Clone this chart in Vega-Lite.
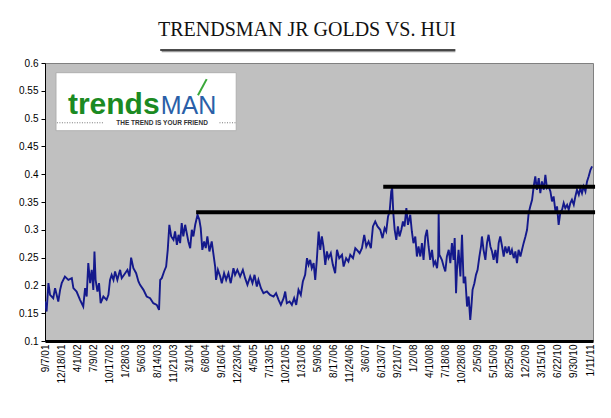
{
  "$schema": "https://vega.github.io/schema/vega-lite/v6.json",
  "autosize": {"type": "none"},
  "width": 548,
  "height": 278,
  "padding": {"left": 45, "top": 63, "right": 18, "bottom": 77},
  "background": "white",
  "config": {"view": {"fill": "#c0c0c0", "stroke": "#808080", "strokeWidth": 1}, "axis": {"labelOverlap": false}},
  "title": {"text": "TRENDSMAN JR GOLDS VS. HUI", "font": "Liberation Serif", "fontSize": 20, "fontWeight": "normal", "color": "#111111", "anchor": "middle", "frame": "group", "dx": -12, "offset": 9},
  "datasets": {
    "series": [
      {"day":0,"v":0.171},{"day":7,"v":0.153},{"day":15,"v":0.204},{"day":22,"v":0.183},{"day":36,"v":0.177},{"day":44,"v":0.195},{"day":58,"v":0.171},{"day":66,"v":0.192},{"day":73,"v":0.204},{"day":87,"v":0.216},{"day":102,"v":0.210},{"day":117,"v":0.213},{"day":124,"v":0.195},{"day":138,"v":0.189},{"day":153,"v":0.174},{"day":167,"v":0.162},{"day":175,"v":0.195},{"day":182,"v":0.180},{"day":189,"v":0.240},{"day":197,"v":0.204},{"day":204,"v":0.228},{"day":211,"v":0.192},{"day":216,"v":0.261},{"day":221,"v":0.210},{"day":229,"v":0.189},{"day":236,"v":0.204},{"day":243,"v":0.168},{"day":255,"v":0.180},{"day":269,"v":0.174},{"day":277,"v":0.183},{"day":284,"v":0.210},{"day":291,"v":0.219},{"day":299,"v":0.210},{"day":306,"v":0.225},{"day":316,"v":0.210},{"day":328,"v":0.228},{"day":335,"v":0.213},{"day":350,"v":0.222},{"day":360,"v":0.228},{"day":369,"v":0.216},{"day":376,"v":0.250},{"day":386,"v":0.231},{"day":398,"v":0.222},{"day":408,"v":0.207},{"day":415,"v":0.201},{"day":430,"v":0.192},{"day":444,"v":0.180},{"day":459,"v":0.177},{"day":473,"v":0.168},{"day":488,"v":0.165},{"day":498,"v":0.156},{"day":503,"v":0.210},{"day":510,"v":0.213},{"day":520,"v":0.225},{"day":529,"v":0.234},{"day":536,"v":0.264},{"day":543,"v":0.309},{"day":551,"v":0.288},{"day":561,"v":0.282},{"day":568,"v":0.297},{"day":576,"v":0.273},{"day":583,"v":0.291},{"day":590,"v":0.276},{"day":597,"v":0.312},{"day":604,"v":0.288},{"day":612,"v":0.309},{"day":619,"v":0.294},{"day":626,"v":0.279},{"day":634,"v":0.267},{"day":641,"v":0.300},{"day":648,"v":0.288},{"day":656,"v":0.309},{"day":666,"v":0.327},{"day":674,"v":0.318},{"day":680,"v":0.303},{"day":687,"v":0.264},{"day":695,"v":0.279},{"day":702,"v":0.267},{"day":709,"v":0.288},{"day":718,"v":0.261},{"day":728,"v":0.279},{"day":736,"v":0.255},{"day":743,"v":0.234},{"day":747,"v":0.210},{"day":755,"v":0.228},{"day":765,"v":0.216},{"day":772,"v":0.204},{"day":782,"v":0.222},{"day":791,"v":0.210},{"day":801,"v":0.222},{"day":811,"v":0.204},{"day":823,"v":0.231},{"day":830,"v":0.219},{"day":840,"v":0.228},{"day":852,"v":0.216},{"day":864,"v":0.228},{"day":874,"v":0.213},{"day":884,"v":0.201},{"day":896,"v":0.216},{"day":906,"v":0.204},{"day":915,"v":0.219},{"day":925,"v":0.198},{"day":932,"v":0.210},{"day":943,"v":0.195},{"day":954,"v":0.186},{"day":969,"v":0.189},{"day":983,"v":0.183},{"day":998,"v":0.180},{"day":1009,"v":0.186},{"day":1020,"v":0.174},{"day":1030,"v":0.165},{"day":1042,"v":0.177},{"day":1049,"v":0.189},{"day":1056,"v":0.168},{"day":1068,"v":0.171},{"day":1078,"v":0.165},{"day":1088,"v":0.177},{"day":1097,"v":0.165},{"day":1107,"v":0.192},{"day":1117,"v":0.183},{"day":1126,"v":0.207},{"day":1136,"v":0.219},{"day":1144,"v":0.249},{"day":1151,"v":0.237},{"day":1158,"v":0.246},{"day":1165,"v":0.231},{"day":1173,"v":0.240},{"day":1180,"v":0.210},{"day":1187,"v":0.246},{"day":1195,"v":0.297},{"day":1202,"v":0.264},{"day":1209,"v":0.288},{"day":1216,"v":0.270},{"day":1224,"v":0.237},{"day":1231,"v":0.261},{"day":1238,"v":0.249},{"day":1248,"v":0.258},{"day":1257,"v":0.237},{"day":1267,"v":0.222},{"day":1275,"v":0.264},{"day":1285,"v":0.249},{"day":1297,"v":0.255},{"day":1304,"v":0.234},{"day":1315,"v":0.249},{"day":1325,"v":0.243},{"day":1333,"v":0.255},{"day":1345,"v":0.249},{"day":1355,"v":0.267},{"day":1362,"v":0.264},{"day":1374,"v":0.258},{"day":1384,"v":0.267},{"day":1394,"v":0.291},{"day":1403,"v":0.270},{"day":1413,"v":0.279},{"day":1423,"v":0.267},{"day":1432,"v":0.306},{"day":1442,"v":0.315},{"day":1452,"v":0.306},{"day":1464,"v":0.300},{"day":1474,"v":0.285},{"day":1483,"v":0.303},{"day":1490,"v":0.297},{"day":1498,"v":0.324},{"day":1505,"v":0.333},{"day":1512,"v":0.369},{"day":1516,"v":0.375},{"day":1521,"v":0.330},{"day":1527,"v":0.300},{"day":1534,"v":0.282},{"day":1541,"v":0.306},{"day":1548,"v":0.288},{"day":1556,"v":0.300},{"day":1563,"v":0.315},{"day":1570,"v":0.306},{"day":1578,"v":0.339},{"day":1585,"v":0.309},{"day":1595,"v":0.327},{"day":1602,"v":0.297},{"day":1609,"v":0.276},{"day":1617,"v":0.288},{"day":1624,"v":0.252},{"day":1631,"v":0.270},{"day":1639,"v":0.252},{"day":1646,"v":0.276},{"day":1653,"v":0.246},{"day":1661,"v":0.288},{"day":1668,"v":0.300},{"day":1675,"v":0.270},{"day":1682,"v":0.246},{"day":1690,"v":0.264},{"day":1697,"v":0.237},{"day":1704,"v":0.243},{"day":1712,"v":0.231},{"day":1717,"v":0.252},{"day":1719,"v":0.330},{"day":1722,"v":0.255},{"day":1726,"v":0.252},{"day":1733,"v":0.246},{"day":1741,"v":0.234},{"day":1748,"v":0.225},{"day":1755,"v":0.252},{"day":1763,"v":0.264},{"day":1770,"v":0.240},{"day":1777,"v":0.276},{"day":1784,"v":0.246},{"day":1789,"v":0.285},{"day":1795,"v":0.186},{"day":1799,"v":0.228},{"day":1806,"v":0.264},{"day":1814,"v":0.216},{"day":1821,"v":0.291},{"day":1828,"v":0.204},{"day":1835,"v":0.216},{"day":1843,"v":0.162},{"day":1850,"v":0.180},{"day":1857,"v":0.138},{"day":1862,"v":0.162},{"day":1867,"v":0.192},{"day":1875,"v":0.204},{"day":1882,"v":0.219},{"day":1889,"v":0.228},{"day":1897,"v":0.252},{"day":1904,"v":0.270},{"day":1908,"v":0.288},{"day":1915,"v":0.264},{"day":1923,"v":0.246},{"day":1930,"v":0.276},{"day":1937,"v":0.291},{"day":1945,"v":0.270},{"day":1952,"v":0.261},{"day":1959,"v":0.246},{"day":1967,"v":0.264},{"day":1974,"v":0.240},{"day":1981,"v":0.276},{"day":1988,"v":0.288},{"day":1996,"v":0.270},{"day":2003,"v":0.252},{"day":2010,"v":0.270},{"day":2018,"v":0.258},{"day":2025,"v":0.270},{"day":2032,"v":0.255},{"day":2039,"v":0.264},{"day":2047,"v":0.249},{"day":2054,"v":0.261},{"day":2061,"v":0.240},{"day":2068,"v":0.264},{"day":2076,"v":0.252},{"day":2083,"v":0.264},{"day":2090,"v":0.276},{"day":2098,"v":0.288},{"day":2105,"v":0.300},{"day":2112,"v":0.330},{"day":2119,"v":0.342},{"day":2127,"v":0.354},{"day":2134,"v":0.378},{"day":2141,"v":0.396},{"day":2148,"v":0.372},{"day":2156,"v":0.393},{"day":2163,"v":0.366},{"day":2170,"v":0.387},{"day":2178,"v":0.372},{"day":2185,"v":0.399},{"day":2192,"v":0.375},{"day":2199,"v":0.378},{"day":2207,"v":0.369},{"day":2214,"v":0.351},{"day":2221,"v":0.360},{"day":2229,"v":0.333},{"day":2236,"v":0.342},{"day":2243,"v":0.309},{"day":2251,"v":0.333},{"day":2258,"v":0.336},{"day":2265,"v":0.348},{"day":2272,"v":0.339},{"day":2280,"v":0.345},{"day":2287,"v":0.336},{"day":2294,"v":0.348},{"day":2301,"v":0.354},{"day":2309,"v":0.345},{"day":2316,"v":0.360},{"day":2323,"v":0.372},{"day":2331,"v":0.363},{"day":2338,"v":0.375},{"day":2345,"v":0.366},{"day":2352,"v":0.378},{"day":2360,"v":0.369},{"day":2367,"v":0.387},{"day":2374,"v":0.396},{"day":2382,"v":0.408},{"day":2389,"v":0.414}
    ],
    "levels": [
      {"day": 660, "day2": 2402, "v": 0.3315},
      {"day": 1477, "day2": 2402, "v": 0.3775}
    ],
    "logo": [
      {"day": 48, "day2": 835, "v": 0.5826, "v2": 0.4782}
    ],
    "dots": [
      {"day": 52, "day2": 258, "v": 0.4925},
      {"day": 762, "day2": 832, "v": 0.4925}
    ],
    "arrow": [
      {"day": 668, "day2": 706, "v": 0.542, "v2": 0.571}
    ],
    "underline": [
      {"day": 503, "day2": 1792, "v": 0.6234}
    ]
  },
  "encoding": {
    "x": {"field": "day", "type": "quantitative",
      "scale": {"domain": [0, 2393], "nice": false, "zero": false},
      "axis": {"title": null, "values": [0,70,140,210,280,350,420,490,560,630,700,770,840,910,980,1050,1120,1190,1260,1330,1400,1470,1540,1610,1680,1750,1820,1890,1960,2030,2100,2170,2240,2310,2380],
        "labelExpr": "['9/7/01','12/18/01','4/1/02','7/9/02','10/17/02','1/28/03','5/6/03','8/14/03','11/21/03','3/1/04','6/8/04','9/16/04','12/23/04','4/5/05','7/13/05','10/21/05','1/31/06','5/9/06','8/17/06','11/24/06','3/6/07','6/13/07','9/21/07','1/2/08','4/10/08','7/18/08','10/28/08','2/5/09','5/15/09','8/25/09','12/2/09','3/15/10','6/22/10','9/30/10','1/11/11'][round(datum.value/70)]",
        "labelAngle": -90, "labelFont": "Liberation Sans", "labelFontSize": 10, "labelColor": "#000000",
        "ticks": false, "labelPadding": 3, "domainColor": "#000000", "domainWidth": 3, "grid": false, "labelOverlap": false, "labelBound": false, "labelFlush": false}},
    "y": {"field": "v", "type": "quantitative",
      "scale": {"domain": [0.1, 0.6], "nice": false, "zero": false},
      "axis": {"title": null, "values": [0.1,0.15,0.2,0.25,0.3,0.35,0.4,0.45,0.5,0.55,0.6], "format": ".2~f",
        "labelFont": "Liberation Sans", "labelFontSize": 10, "labelColor": "#000000",
        "tickColor": "#000000", "tickSize": 4, "labelPadding": 3, "domainColor": "#000000", "domainWidth": 1, "grid": false, "labelOverlap": false, "labelFlush": false}}
  },
  "layer": [
    {
      "data": {"name": "series"},
      "mark": {"type": "line", "color": "#14198c", "strokeWidth": 1.9, "clip": true}
    },
    {
      "data": {"name": "levels"},
      "mark": {"type": "rule", "color": "#000000", "strokeWidth": 4},
      "encoding": {"x2": {"field": "day2"}}
    },
    {
      "data": {"name": "logo"},
      "mark": {"type": "rect", "fill": "#ffffff", "stroke": "#b0b0b0", "strokeWidth": 1},
      "encoding": {"x2": {"field": "day2"}, "y2": {"field": "v2"}}
    },
    {
      "data": {"name": "dots"},
      "mark": {"type": "rule", "color": "#777777", "strokeWidth": 1, "strokeDash": [1, 1.5]},
      "encoding": {"x2": {"field": "day2"}}
    },
    {
      "data": {"name": "arrow"},
      "mark": {"type": "rule", "color": "#3aa83a", "strokeWidth": 2},
      "encoding": {"x2": {"field": "day2"}, "y2": {"field": "v2"}}
    },
    {
      "data": {"name": "underline"},
      "mark": {"type": "rule", "color": "#9a9a9a", "strokeWidth": 1.5, "yOffset": 1.5, "xOffset": 1.5},
      "encoding": {"x2": {"field": "day2"}}
    },
    {
      "data": {"name": "underline"},
      "mark": {"type": "rule", "color": "#111111", "strokeWidth": 1.3},
      "encoding": {"x2": {"field": "day2"}}
    },
    {
      "data": {"values": [{"day": 100, "v": 0.509, "label": "trends"}]},
      "mark": {"type": "text", "align": "left", "baseline": "alphabetic", "font": "Liberation Sans", "fontWeight": "bold", "fontSize": 30, "color": "#1b8a22"},
      "encoding": {"text": {"field": "label"}}
    },
    {
      "data": {"values": [{"day": 505, "v": 0.509, "label": "MAN"}]},
      "mark": {"type": "text", "align": "left", "baseline": "alphabetic", "font": "Liberation Sans", "fontWeight": "normal", "fontSize": 25, "color": "#2a5fa8"},
      "encoding": {"text": {"field": "label"}}
    },
    {
      "data": {"values": [{"day": 511, "v": 0.4915, "label": "THE TREND IS YOUR FRIEND"}]},
      "mark": {"type": "text", "align": "center", "baseline": "middle", "font": "Liberation Sans", "fontWeight": "bold", "fontSize": 6.5, "color": "#333333"},
      "encoding": {"text": {"field": "label"}}
    }
  ]
}
